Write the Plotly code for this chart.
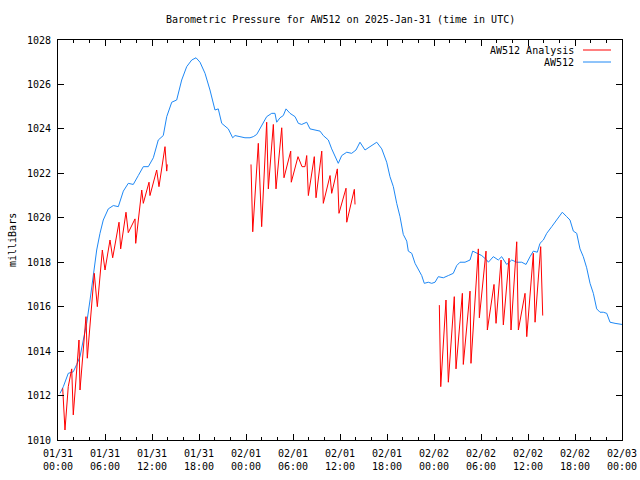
import pandas as pd
import plotly.graph_objects as go

BASE = pd.Timestamp("2025-01-31 00:00")

# AW512 observed pressure: hours since 2025-01-31 00:00 UTC, millibars
obs_hours = [0.26, 0.68, 1.31, 1.95, 2.39, 2.81, 3.23, 3.66, 4.09, 4.51, 4.94, 5.36, 5.78,
             6.42, 7.06, 7.70, 8.34, 8.97, 9.61, 10.25, 10.89, 11.53, 12.17, 12.80, 13.44,
             13.88, 14.52, 15.15, 15.79, 16.43, 17.07, 17.62, 18.13, 18.77, 19.40, 20.04,
             20.46, 20.90, 21.74, 22.30, 22.60, 23.23, 23.87, 24.51, 24.93, 25.37, 25.79,
             26.21, 26.64, 27.28, 27.70, 27.92, 28.34, 28.76, 29.11, 29.62, 30.26, 30.68,
             31.11, 31.75, 32.17, 32.81, 33.45, 33.87, 34.51, 34.94, 35.36, 35.78, 36.22,
             36.86, 37.49, 38.04, 38.55, 39.19, 39.83, 40.69, 41.33, 41.96, 42.38, 42.81,
             43.24, 43.66, 44.08, 44.52, 44.72, 45.16, 45.58, 46.00, 46.43, 46.76, 47.27,
             47.71, 48.13, 48.55, 49.19, 49.83, 50.46, 50.90, 51.32, 51.96, 52.60, 52.94,
             53.45, 54.09, 54.73, 54.94, 55.57, 56.21, 56.64, 57.28, 57.92, 58.56, 59.20,
             59.75, 60.26, 60.68, 61.19, 61.53, 61.96, 62.39, 63.03, 63.45, 64.00, 64.38,
             64.94, 65.36, 65.79, 66.22, 66.64, 67.06, 67.49, 67.92, 68.34, 68.77, 69.19,
             69.61, 70.05, 70.47, 71.11, 71.75, 72.00]
obs_mb = [1012.1, 1012.4, 1013.0, 1013.07, 1013.4, 1013.75, 1014.5, 1015.25, 1016.3, 1017.5,
          1018.55, 1019.3, 1019.9, 1020.4, 1020.55, 1020.5, 1021.2, 1021.55, 1021.5, 1021.9,
          1022.3, 1022.3, 1022.7, 1023.5, 1023.7, 1024.55, 1025.2, 1025.3, 1026.2, 1026.8,
          1027.1, 1027.2, 1027.0, 1026.5, 1025.75, 1024.85, 1024.9, 1024.25, 1024.0, 1023.6,
          1023.7, 1023.65, 1023.6, 1023.6, 1023.65, 1023.75, 1024.0, 1024.25, 1024.55,
          1024.7, 1024.7, 1024.3, 1024.5, 1024.6, 1024.9, 1024.7, 1024.55, 1024.25, 1024.2,
          1024.3, 1024.0, 1023.95, 1023.9, 1023.7, 1023.5, 1023.1, 1022.8, 1022.45, 1022.8,
          1022.95, 1022.9, 1023.05, 1023.4, 1023.05, 1023.2, 1023.4, 1023.1, 1022.5, 1021.85,
          1021.4, 1020.65, 1020.05, 1019.25, 1018.95, 1018.5, 1018.4, 1017.95, 1017.65,
          1017.4, 1017.05, 1017.1, 1017.05, 1017.1, 1017.35, 1017.3, 1017.4, 1017.5, 1017.85,
          1018.0, 1018.0, 1018.1, 1018.5, 1018.4, 1018.3, 1018.1, 1018.0, 1018.25, 1018.1,
          1018.25, 1017.9, 1018.1, 1018.0, 1018.0, 1017.9, 1018.25, 1018.5, 1018.45, 1018.85,
          1019.0, 1019.3, 1019.6, 1019.8, 1020.1, 1020.25, 1020.05, 1019.9, 1019.4, 1019.3,
          1018.6, 1018.25, 1017.75, 1017.05, 1016.6, 1015.9, 1015.75, 1015.75, 1015.7,
          1015.3, 1015.25, 1015.2, 1015.2]

# AW512 Analysis: three runs (hours since start, millibars)
ana1_hours = [0.60, 0.89, 1.31, 1.75, 1.95, 2.68, 2.81, 3.57, 3.74, 4.63, 5.02, 5.66, 6.00,
              6.64, 6.98, 7.79, 8.00, 8.68, 8.97, 9.83, 9.92, 10.69, 10.89, 11.62, 11.74,
              12.60, 12.89, 13.66, 13.88, 13.95]
ana1_mb = [1012.33, 1010.45, 1012.4, 1013.2, 1011.13, 1014.5, 1012.25, 1015.55, 1013.68,
           1017.5, 1016.0, 1018.55, 1017.65, 1019.0, 1018.2, 1019.8, 1018.6, 1020.25, 1019.33,
           1019.95, 1018.85, 1021.25, 1020.65, 1021.6, 1021.0, 1022.15, 1021.4, 1023.2,
           1022.1, 1022.4]
ana2_hours = [24.64, 24.86, 25.57, 26.00, 26.64, 26.85, 27.49, 27.83, 28.56, 28.85, 29.71,
              29.78, 30.64, 31.15, 31.53, 31.75, 31.96, 32.72, 32.94, 33.67, 33.87, 34.73,
              34.94, 35.66, 35.87, 36.77, 36.86, 37.83, 37.92]
ana2_mb = [1022.4, 1019.37, 1023.35, 1019.6, 1024.3, 1021.3, 1024.2, 1021.3, 1024.05, 1021.8,
           1023.0, 1021.6, 1022.75, 1022.3, 1022.3, 1022.8, 1021.0, 1022.75, 1020.9, 1023.0,
           1020.65, 1021.9, 1021.1, 1022.2, 1020.2, 1021.33, 1019.8, 1021.28, 1020.6]
ana3_hours = [48.68, 48.86, 49.53, 49.83, 50.59, 50.81, 51.62, 51.74, 52.60, 52.72, 53.66,
              53.79, 54.64, 54.81, 55.66, 55.92, 56.56, 56.85, 57.58, 57.83, 58.56, 58.77,
              59.62, 59.84, 60.68, 60.90, 61.62, 61.88]
ana3_mb = [1016.07, 1012.4, 1016.3, 1012.6, 1016.45, 1013.2, 1016.6, 1013.4, 1016.7, 1013.45,
           1018.6, 1015.5, 1018.5, 1014.95, 1017.0, 1015.25, 1018.1, 1015.18, 1018.18, 1014.95,
           1018.92, 1014.95, 1016.6, 1014.65, 1018.4, 1015.3, 1018.7, 1015.6]

tick_hours = [0, 6, 12, 18, 24, 30, 36, 42, 48, 54, 60, 66, 72]
tick_labels = ["01/31<br>00:00", "01/31<br>06:00", "01/31<br>12:00", "01/31<br>18:00",
               "02/01<br>00:00", "02/01<br>06:00", "02/01<br>12:00", "02/01<br>18:00",
               "02/02<br>00:00", "02/02<br>06:00", "02/02<br>12:00", "02/02<br>18:00",
               "02/03<br>00:00"]
y_ticks = [1010, 1012, 1014, 1016, 1018, 1020, 1022, 1024, 1026, 1028]

RED = "#ff0000"
BLUE = "#1e88f5"
FONT = "DejaVu Sans Mono"


def to_time(hours):
    return [None if h is None else BASE + pd.Timedelta(hours=h) for h in hours]


ana_hours = ana1_hours + [None] + ana2_hours + [None] + ana3_hours
ana_mb = ana1_mb + [None] + ana2_mb + [None] + ana3_mb

fig = go.Figure()
fig.add_trace(go.Scatter(x=to_time(obs_hours), y=obs_mb, mode="lines", name="AW512",
                         line=dict(color=BLUE, width=1), showlegend=False))
fig.add_trace(go.Scatter(x=to_time(ana_hours), y=ana_mb, mode="lines", name="AW512 Analysis",
                         line=dict(color=RED, width=1), connectgaps=False, showlegend=False))

W, H = 640, 480
L, R, T, B = 58, 18, 40, 40
pw, ph = W - L - R, H - T - B


def px(x):  # pixel -> paper x
    return (x - L) / pw


def py(y):  # pixel -> paper y
    return (H - B - y) / ph


fig.update_layout(
    width=W, height=H,
    margin=dict(l=L, r=R, t=T, b=B, autoexpand=False),
    paper_bgcolor="white", plot_bgcolor="white",
    font=dict(family=FONT, size=10, color="black"),
    showlegend=False,
)
fig.update_xaxes(
    type="date",
    range=[BASE, BASE + pd.Timedelta(hours=72)],
    tickvals=to_time(tick_hours), ticktext=tick_labels,
    ticks="inside", ticklen=6, tickcolor="black", tickwidth=1,
    minor=dict(ticks="inside", ticklen=3, dtick=2 * 3600 * 1000, tickcolor="black", showgrid=False),
    showline=True, linecolor="black", linewidth=1, mirror="allticks",
    showgrid=False, zeroline=False, tickfont=dict(family=FONT, size=10),
    ticklabelstandoff=4,
)
fig.update_yaxes(
    range=[1010, 1028], tickvals=y_ticks,
    ticks="inside", ticklen=6, tickcolor="black", tickwidth=1,
    showline=True, linecolor="black", linewidth=1, mirror="allticks",
    showgrid=False, zeroline=False, tickfont=dict(family=FONT, size=10),
    ticklabelstandoff=4,
)

annotations = [
    dict(text="Barometric Pressure for AW512 on 2025-Jan-31 (time in UTC)",
         xref="paper", yref="paper", x=px(340), y=py(19), xanchor="center", yanchor="middle",
         showarrow=False, font=dict(family=FONT, size=10)),
    dict(text="milliBars", xref="paper", yref="paper", x=px(12), y=py(240),
         xanchor="center", yanchor="middle", textangle=-90, showarrow=False,
         font=dict(family=FONT, size=10)),
    dict(text="AW512 Analysis", xref="paper", yref="paper", x=px(576), y=py(50),
         xanchor="right", yanchor="middle", showarrow=False, font=dict(family=FONT, size=10)),
    dict(text="AW512", xref="paper", yref="paper", x=px(576), y=py(62),
         xanchor="right", yanchor="middle", showarrow=False, font=dict(family=FONT, size=10)),
]
shapes = [
    dict(type="line", xref="paper", yref="paper", x0=px(583), x1=px(611), y0=py(50), y1=py(50),
         line=dict(color=RED, width=1)),
    dict(type="line", xref="paper", yref="paper", x0=px(583), x1=px(611), y0=py(62), y1=py(62),
         line=dict(color=BLUE, width=1)),
]
fig.update_layout(annotations=annotations, shapes=shapes)

# remove the page's default body margin so the 640x480 figure fills the window exactly
fig.write_html("out.html",
               config={"displayModeBar": False},
               post_script="document.body.style.margin='0';document.body.style.overflow='hidden';")
